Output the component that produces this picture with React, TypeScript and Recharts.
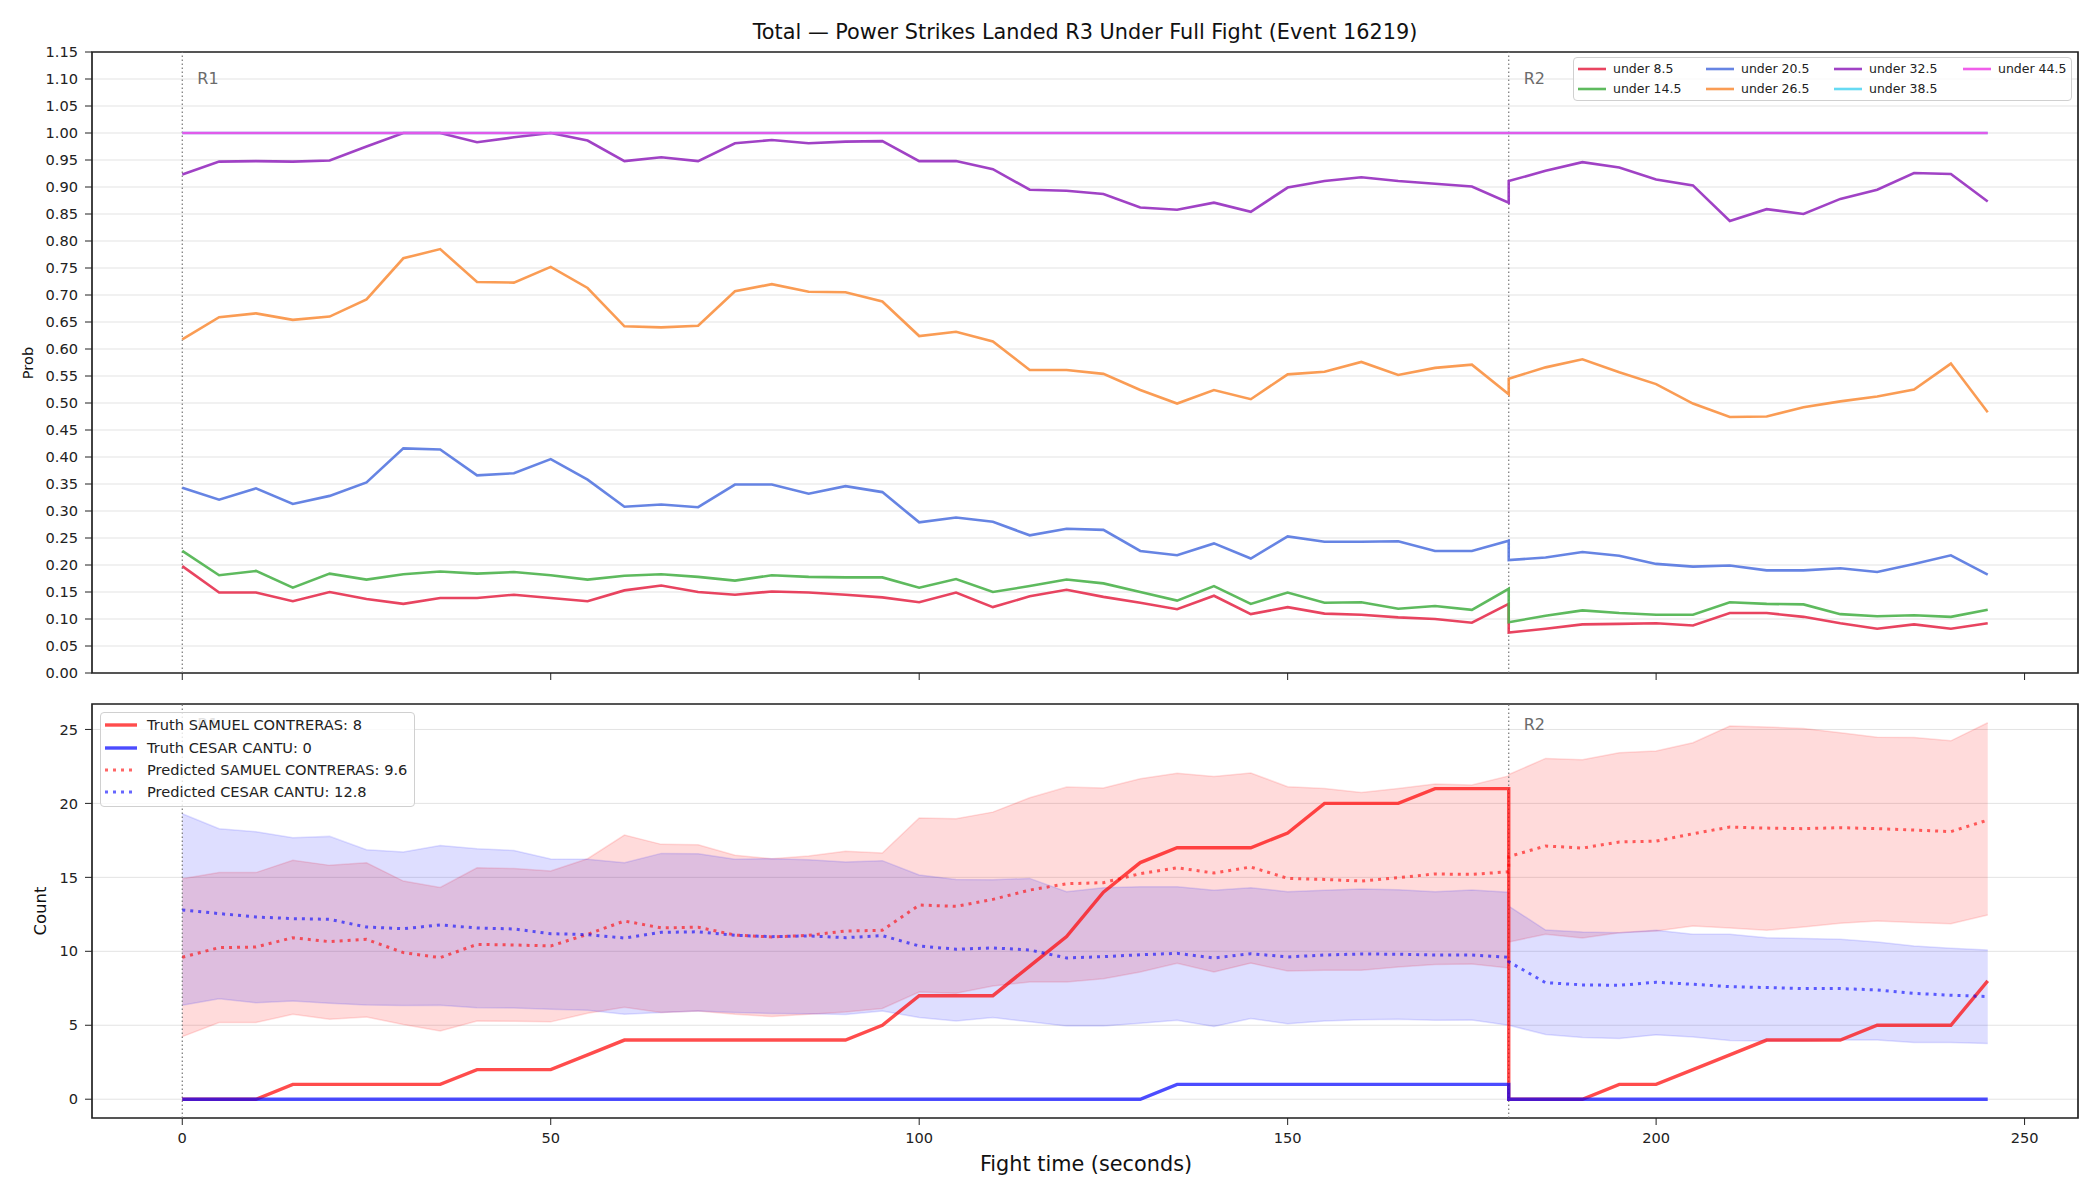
import React from "react";
import {
  ComposedChart,
  Line,
  Area,
  XAxis,
  YAxis,
  CartesianGrid,
  ReferenceLine,
  ReferenceArea,
} from "recharts";

const FONT = "'DejaVu Sans', sans-serif";

// sample times (s); 180 appears twice: end of R1 and start of R2
const times = [
  0, 5, 10, 15, 20, 25, 30, 35, 40, 45, 50, 55, 60, 65, 70, 75, 80, 85, 90, 95,
  100, 105, 110, 115, 120, 125, 130, 135, 140, 145, 150, 155, 160, 165, 170, 175, 180,
  180, 185, 190, 195, 200, 205, 210, 215, 220, 225, 230, 235, 240, 245,
];

// P(total under line)
const under85 = [
  0.198, 0.149, 0.149, 0.133, 0.15, 0.137, 0.128, 0.139, 0.139, 0.145, 0.139, 0.133, 0.153, 0.162, 0.15, 0.145, 0.151, 0.149, 0.145, 0.14,
  0.131, 0.149, 0.122, 0.142, 0.154, 0.141, 0.13, 0.118, 0.143, 0.109, 0.122, 0.11, 0.108, 0.103, 0.1, 0.093, 0.128,
  0.075, 0.082, 0.09, 0.091, 0.092, 0.088, 0.111, 0.111, 0.104, 0.092, 0.082, 0.09, 0.082, 0.092,
];
const under145 = [
  0.226, 0.181, 0.189, 0.158, 0.184, 0.173, 0.183, 0.188, 0.184, 0.187, 0.181, 0.173, 0.18, 0.183, 0.178, 0.171, 0.181, 0.178, 0.177, 0.177,
  0.158, 0.174, 0.15, 0.161, 0.173, 0.166, 0.15, 0.134, 0.161, 0.128, 0.149, 0.13, 0.131, 0.119, 0.124, 0.117, 0.156,
  0.094, 0.106, 0.116, 0.111, 0.108, 0.108, 0.131, 0.128, 0.127, 0.109, 0.105, 0.107, 0.104, 0.117,
];
const under205 = [
  0.343, 0.321, 0.342, 0.313, 0.328, 0.353, 0.416, 0.414, 0.366, 0.37, 0.396, 0.358, 0.308, 0.312, 0.307, 0.349, 0.349, 0.332, 0.346, 0.335,
  0.279, 0.288, 0.28, 0.255, 0.267, 0.265, 0.226, 0.218, 0.24, 0.212, 0.253, 0.243, 0.243, 0.244, 0.226, 0.226, 0.245,
  0.209, 0.214, 0.224, 0.217, 0.202, 0.197, 0.199, 0.19, 0.19, 0.194, 0.187, 0.202, 0.218, 0.182,
];
const under265 = [
  0.618, 0.659, 0.666, 0.654, 0.66, 0.692, 0.768, 0.785, 0.724, 0.723, 0.752, 0.713, 0.642, 0.64, 0.643, 0.707, 0.72, 0.706, 0.705, 0.688,
  0.624, 0.632, 0.614, 0.561, 0.561, 0.554, 0.524, 0.499, 0.524, 0.507, 0.553, 0.558, 0.576, 0.552, 0.565, 0.571, 0.516,
  0.545, 0.566, 0.581, 0.557, 0.535, 0.499, 0.474, 0.475, 0.492, 0.503, 0.512, 0.525, 0.573, 0.483,
];
const under325 = [
  0.923, 0.947, 0.948, 0.947, 0.949, 0.975, 1.0, 1.0, 0.983, 0.992, 1.0, 0.986, 0.948, 0.955, 0.948, 0.981, 0.987, 0.981, 0.984, 0.985,
  0.948, 0.948, 0.933, 0.895, 0.893, 0.887, 0.862, 0.858, 0.871, 0.854, 0.899, 0.911, 0.918, 0.911, 0.906, 0.901, 0.871,
  0.911, 0.93, 0.946, 0.936, 0.914, 0.903, 0.837, 0.859, 0.85, 0.878, 0.895, 0.926, 0.924, 0.873,
];
const under385 = [
  1, 1, 1, 1, 1, 1, 1, 1, 1, 1, 1, 1, 1, 1, 1, 1, 1, 1, 1, 1,
  1, 1, 1, 1, 1, 1, 1, 1, 1, 1, 1, 1, 1, 1, 1, 1, 1,
  1, 1, 1, 1, 1, 1, 1, 1, 1, 1, 1, 1, 1, 1,
];
const under445 = [
  1, 1, 1, 1, 1, 1, 1, 1, 1, 1, 1, 1, 1, 1, 1, 1, 1, 1, 1, 1,
  1, 1, 1, 1, 1, 1, 1, 1, 1, 1, 1, 1, 1, 1, 1, 1, 1,
  1, 1, 1, 1, 1, 1, 1, 1, 1, 1, 1, 1, 1, 1,
];

// running counts
const truthRed = [
  0, 0, 0, 1, 1, 1, 1, 1, 2, 2, 2, 3, 4, 4, 4, 4, 4, 4, 4, 5,
  7, 7, 7, 9, 11, 14, 16, 17, 17, 17, 18, 20, 20, 20, 21, 21, 21,
  0, 0, 0, 1, 1, 2, 3, 4, 4, 4, 5, 5, 5, 8,
];
const truthBlue = [
  0, 0, 0, 0, 0, 0, 0, 0, 0, 0, 0, 0, 0, 0, 0, 0, 0, 0, 0, 0,
  0, 0, 0, 0, 0, 0, 0, 1, 1, 1, 1, 1, 1, 1, 1, 1, 1,
  0, 0, 0, 0, 0, 0, 0, 0, 0, 0, 0, 0, 0, 0,
];
const predRed = [
  9.6, 10.25, 10.29, 10.92, 10.65, 10.81, 9.91, 9.57, 10.47, 10.43, 10.36, 11.15, 12.05, 11.58, 11.63, 11.1, 10.97, 11.08, 11.37, 11.42,
  13.13, 13.04, 13.51, 14.14, 14.57, 14.64, 15.25, 15.65, 15.29, 15.7, 14.93, 14.86, 14.75, 14.98, 15.23, 15.2, 15.38,
  16.4, 17.12, 16.98, 17.39, 17.45, 17.95, 18.4, 18.33, 18.29, 18.36, 18.29, 18.2, 18.09, 18.87,
];
const predBlue = [
  12.8, 12.55, 12.32, 12.21, 12.16, 11.64, 11.53, 11.78, 11.58, 11.51, 11.19, 11.13, 10.9, 11.28, 11.32, 11.08, 10.99, 11.04, 10.92, 11.06,
  10.36, 10.14, 10.23, 10.09, 9.55, 9.64, 9.77, 9.86, 9.55, 9.84, 9.62, 9.75, 9.82, 9.8, 9.75, 9.75, 9.6,
  9.3, 7.88, 7.73, 7.7, 7.91, 7.77, 7.61, 7.55, 7.48, 7.48, 7.39, 7.16, 7.03, 6.94,
];
const redLow = [
  4.23, 5.18, 5.18, 5.74, 5.41, 5.56, 5.05, 4.62, 5.29, 5.27, 5.23, 5.81, 6.22, 5.86, 5.97, 5.74, 5.59, 5.74, 5.9, 6.13,
  7.25, 7.16, 7.66, 7.93, 7.93, 8.15, 8.6, 9.19, 8.6, 9.2, 8.67, 8.72, 8.72, 8.94, 9.1, 9.14, 8.87,
  10.63, 11.15, 10.9, 11.26, 11.37, 11.71, 11.57, 11.42, 11.64, 11.89, 12.05, 11.94, 11.87, 12.45,
];
const redHigh = [
  14.91, 15.32, 15.32, 16.15, 15.81, 15.99, 14.75, 14.32, 15.65, 15.59, 15.43, 16.26, 17.86, 17.23, 17.2, 16.49, 16.26, 16.44, 16.76, 16.64,
  19.01, 18.96, 19.41, 20.38, 21.1, 21.04, 21.67, 22.03, 21.82, 22.05, 21.13, 21.01, 20.74, 21.01, 21.31, 21.24, 21.85,
  21.95, 23.04, 22.95, 23.42, 23.54, 24.1, 25.23, 25.16, 25.07, 24.77, 24.48, 24.46, 24.23, 25.45,
];
const blueLow = [
  6.35, 6.8, 6.53, 6.64, 6.49, 6.37, 6.33, 6.35, 6.19, 6.17, 6.08, 6.01, 5.74, 5.86, 5.97, 5.86, 5.79, 5.77, 5.72, 5.97,
  5.52, 5.29, 5.52, 5.23, 4.95, 4.95, 5.14, 5.34, 4.91, 5.45, 5.11, 5.29, 5.38, 5.41, 5.34, 5.36, 5.0,
  5.0, 4.37, 4.17, 4.1, 4.35, 4.21, 3.97, 3.94, 3.94, 4.01, 4.01, 3.83, 3.83, 3.76,
];
const blueHigh = [
  19.3, 18.29, 18.09, 17.68, 17.77, 16.87, 16.71, 17.16, 16.94, 16.82, 16.24, 16.22, 15.99, 16.62, 16.59, 16.22, 16.26, 16.19, 16.04, 16.13,
  15.16, 14.86, 14.84, 14.93, 14.03, 14.3, 14.37, 14.37, 14.12, 14.3, 14.03, 14.12, 14.21, 14.17, 14.03, 14.14, 14.0,
  13.06, 11.44, 11.31, 11.26, 11.42, 11.15, 11.15, 10.91, 10.86, 10.81, 10.63, 10.36, 10.2, 10.09,
];

const xTicks = [0, 50, 100, 150, 200, 250];
const probTicks = [
  0, 0.05, 0.1, 0.15, 0.2, 0.25, 0.3, 0.35, 0.4, 0.45, 0.5, 0.55, 0.6, 0.65, 0.7, 0.75, 0.8, 0.85, 0.9, 0.95, 1.0, 1.05, 1.1, 1.15,
];
const countTicks = [0, 5, 10, 15, 20, 25];
const roundStarts = [
  { t: 0, name: "R1" },
  { t: 180, name: "R2" },
];

const X_DOMAIN: [number, number] = [-12.25, 257.25];
const PROB_DOMAIN: [number, number] = [0, 1.15];
const COUNT_DOMAIN: [number, number] = [-1.27, 26.72];

const probSeries = [
  { key: "u85", name: "under 8.5", color: "#e6304f", values: under85 },
  { key: "u145", name: "under 14.5", color: "#4db34d", values: under145 },
  { key: "u205", name: "under 20.5", color: "#5577e0", values: under205 },
  { key: "u265", name: "under 26.5", color: "#fa9141", values: under265 },
  { key: "u325", name: "under 32.5", color: "#962dbf", values: under325 },
  { key: "u385", name: "under 38.5", color: "#55d6f2", values: under385 },
  { key: "u445", name: "under 44.5", color: "#ee4de8", values: under445 },
];

const probRows = times.map((t, i) => {
  const row: Record<string, number> = { t };
  probSeries.forEach((s) => (row[s.key] = s.values[i]));
  return row;
});

const countRows = times.map((t, i) => ({
  t,
  truthRed: truthRed[i],
  truthBlue: truthBlue[i],
  predRed: predRed[i],
  predBlue: predBlue[i],
  redBand: [redLow[i], redHigh[i]],
  blueBand: [blueLow[i], blueHigh[i]],
}));

const RED = "#ff0000";
const BLUE = "#0000ff";

const countLegend = [
  { name: `Truth SAMUEL CONTRERAS: ${truthRed[truthRed.length - 1]}`, color: RED, dotted: false },
  { name: `Truth CESAR CANTU: ${truthBlue[truthBlue.length - 1]}`, color: BLUE, dotted: false },
  { name: `Predicted SAMUEL CONTRERAS: ${predRed[0].toFixed(1)}`, color: RED, dotted: true },
  { name: `Predicted CESAR CANTU: ${predBlue[0].toFixed(1)}`, color: BLUE, dotted: true },
];

const tickStyle = { fill: "#222", fontSize: 14.6, fontFamily: FONT };

const roundLabel = (text: string, dy: number) => (props: any) => {
  const vb = props.viewBox || {};
  return (
    <text x={(vb.x ?? 0) + 15} y={(vb.y ?? 0) + dy} fill="#6b6b6b" fontSize={16} fontFamily={FONT}>
      {text}
    </text>
  );
};

function ProbPanel() {
  return (
    <ComposedChart width={2100} height={700} data={probRows} margin={{ top: 52, right: 22, bottom: 7, left: 12 }}>
      <CartesianGrid vertical={false} stroke="#e3e3e3" />
      <XAxis
        dataKey="t"
        type="number"
        domain={X_DOMAIN}
        ticks={xTicks}
        allowDataOverflow
        interval={0}
        axisLine={false}
        stroke="#222"
        tickSize={7}
        tickFormatter={() => ""}
        height={20}
      />
      <YAxis
        type="number"
        domain={PROB_DOMAIN}
        ticks={probTicks}
        allowDataOverflow
        interval={0}
        width={80}
        axisLine={false}
        stroke="#222"
        tickSize={7}
        tickMargin={7}
        tick={tickStyle}
        tickFormatter={(v: number) => v.toFixed(2)}
      />
      {roundStarts.map((r) => (
        <ReferenceLine
          key={r.name}
          x={r.t}
          stroke="#777"
          strokeWidth={1.2}
          strokeDasharray="1.5 2.5"
          label={roundLabel(r.name, 32)}
        />
      ))}
      {probSeries.map((s) => (
        <Line
          key={s.key}
          dataKey={s.key}
          name={s.name}
          type="linear"
          stroke={s.color}
          strokeOpacity={0.9}
          strokeWidth={2.6}
          dot={false}
          activeDot={false}
          isAnimationActive={false}
        />
      ))}
      <ReferenceArea
        x1={X_DOMAIN[0]}
        x2={X_DOMAIN[1]}
        y1={PROB_DOMAIN[0]}
        y2={PROB_DOMAIN[1]}
        fill="none"
        stroke="#222"
        strokeWidth={1.7}
        ifOverflow="visible"
      />
    </ComposedChart>
  );
}

function CountPanel() {
  return (
    <ComposedChart width={2100} height={520} data={countRows} margin={{ top: 24, right: 22, bottom: 42, left: 12 }}>
      <CartesianGrid vertical={false} stroke="#e3e3e3" />
      <XAxis
        dataKey="t"
        type="number"
        domain={X_DOMAIN}
        ticks={xTicks}
        allowDataOverflow
        interval={0}
        axisLine={false}
        stroke="#222"
        tickSize={7}
        tickMargin={8}
        tick={tickStyle}
        height={40}
      />
      <YAxis
        type="number"
        domain={COUNT_DOMAIN}
        ticks={countTicks}
        allowDataOverflow
        interval={0}
        width={80}
        axisLine={false}
        stroke="#222"
        tickSize={7}
        tickMargin={7}
        tick={tickStyle}
      />
      {roundStarts.map((r) => (
        <ReferenceLine
          key={r.name}
          x={r.t}
          stroke="#777"
          strokeWidth={1.2}
          strokeDasharray="1.5 2.5"
          label={roundLabel(r.name, 26)}
        />
      ))}
      <Area
        dataKey="redBand"
        type="linear"
        fill={RED}
        fillOpacity={0.14}
        stroke={RED}
        strokeOpacity={0.13}
        strokeWidth={1.5}
        activeDot={false}
        isAnimationActive={false}
      />
      <Area
        dataKey="blueBand"
        type="linear"
        fill={BLUE}
        fillOpacity={0.13}
        stroke={BLUE}
        strokeOpacity={0.12}
        strokeWidth={1.5}
        activeDot={false}
        isAnimationActive={false}
      />
      <Line dataKey="truthRed" type="linear" stroke={RED} strokeOpacity={0.7} strokeWidth={3.4} dot={false} activeDot={false} isAnimationActive={false} />
      <Line dataKey="truthBlue" type="linear" stroke={BLUE} strokeOpacity={0.7} strokeWidth={3.4} dot={false} activeDot={false} isAnimationActive={false} />
      <Line dataKey="predRed" type="linear" stroke={RED} strokeOpacity={0.6} strokeWidth={3} strokeDasharray="3 5" dot={false} activeDot={false} isAnimationActive={false} />
      <Line dataKey="predBlue" type="linear" stroke={BLUE} strokeOpacity={0.6} strokeWidth={3} strokeDasharray="3 5" dot={false} activeDot={false} isAnimationActive={false} />
      <ReferenceArea
        x1={X_DOMAIN[0]}
        x2={X_DOMAIN[1]}
        y1={COUNT_DOMAIN[0]}
        y2={COUNT_DOMAIN[1]}
        fill="none"
        stroke="#222"
        strokeWidth={1.7}
        ifOverflow="visible"
      />
    </ComposedChart>
  );
}

function Swatch({ color, opacity, width, dotted, len }: { color: string; opacity: number; width: number; dotted?: boolean; len: number }) {
  return (
    <svg width={len} height={8} style={{ display: "block" }}>
      <line
        x1={0}
        y1={4}
        x2={len}
        y2={4}
        stroke={color}
        strokeOpacity={opacity}
        strokeWidth={width}
        strokeDasharray={dotted ? "3 5" : undefined}
      />
    </svg>
  );
}

function ProbLegend() {
  // matplotlib fills columns first: 2 rows x 4 columns
  const colX = [4, 132, 260, 389];
  const rowY = [11, 30.5];
  return (
    <div
      style={{
        position: "absolute",
        left: 1573,
        top: 57,
        width: 497,
        height: 42,
        border: "1.5px solid #d0d0d0",
        borderRadius: 4,
        background: "rgba(255,255,255,0.8)",
        fontFamily: FONT,
        fontSize: 12.5,
        color: "#222",
      }}
    >
      {probSeries.map((s, i) => {
        const col = Math.floor(i / 2);
        const row = i % 2;
        return (
          <div key={s.key} style={{ position: "absolute", left: colX[col], top: rowY[row] - 8, height: 16, display: "flex", alignItems: "center" }}>
            <Swatch color={s.color} opacity={0.9} width={2.6} len={28} />
            <span style={{ marginLeft: 7, whiteSpace: "nowrap", lineHeight: "16px" }}>{s.name}</span>
          </div>
        );
      })}
    </div>
  );
}

function CountLegend() {
  const rowY = [12, 34.5, 57, 79];
  return (
    <div
      style={{
        position: "absolute",
        left: 100,
        top: 712,
        width: 313,
        height: 93,
        border: "1.5px solid #d0d0d0",
        borderRadius: 4,
        background: "rgba(255,255,255,0.8)",
        fontFamily: FONT,
        fontSize: 14.6,
        color: "#222",
      }}
    >
      {countLegend.map((item, i) => (
        <div key={item.name} style={{ position: "absolute", left: 4, top: rowY[i] - 10, height: 20, display: "flex", alignItems: "center" }}>
          <Swatch color={item.color} opacity={item.dotted ? 0.6 : 0.7} width={item.dotted ? 3 : 3.4} dotted={item.dotted} len={32} />
          <span style={{ marginLeft: 10, whiteSpace: "nowrap", lineHeight: "20px" }}>{item.name}</span>
        </div>
      ))}
    </div>
  );
}

const centered = (x: number, y: number, size: number, rotate = 0): React.CSSProperties => ({
  position: "absolute",
  left: x,
  top: y,
  transform: `translate(-50%, -50%)${rotate ? ` rotate(${rotate}deg)` : ""}`,
  fontFamily: FONT,
  fontSize: size,
  color: "#111",
  whiteSpace: "nowrap",
  lineHeight: 1,
});

export default function App() {
  return (
    <div style={{ position: "absolute", left: 0, top: 0, width: 2100, height: 1200, background: "#fff", overflow: "hidden" }}>
      <div style={centered(1085, 31.5, 20.8)}>Total — Power Strikes Landed R3 Under Full Fight (Event 16219)</div>
      <div style={{ position: "absolute", left: 0, top: 0 }}>
        <ProbPanel />
      </div>
      <div style={{ position: "absolute", left: 0, top: 680 }}>
        <CountPanel />
      </div>
      <ProbLegend />
      <CountLegend />
      <div style={centered(28, 362.5, 14.6, -90)}>Prob</div>
      <div style={centered(40.5, 911, 16.5, -90)}>Count</div>
      <div style={centered(1086, 1164, 20.8)}>Fight time (seconds)</div>
    </div>
  );
}
